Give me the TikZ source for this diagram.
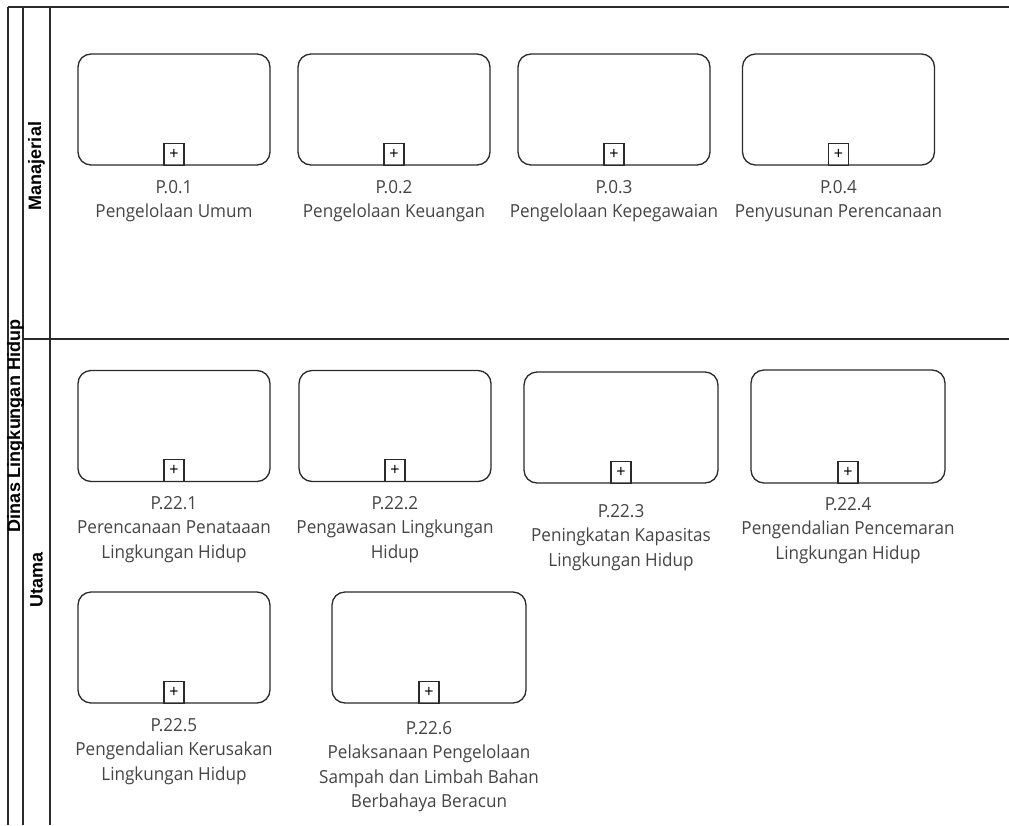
\documentclass[tikz,border=0pt]{standalone}
\usepackage{fontspec}
\setmainfont{Open Sans}[FakeStretch=0.95]
\newfontfamily\lanefont{Liberation Sans}
\definecolor{txt}{HTML}{454545}
\definecolor{edge}{HTML}{2a2a2a}
\begin{document}
\begin{tikzpicture}[x=1pt,y=-1pt,
  task/.style={draw=edge,line width=1.3pt,rounded corners=13pt,minimum width=192pt,minimum height=111pt,inner sep=0pt},
  plusbox/.style={draw=edge,line width=1.1pt,minimum width=20pt,minimum height=22pt,inner sep=0pt,font=\fontsize{17}{17}\selectfont,anchor=south},
  lbl/.style={anchor=north,align=center,inner sep=0pt,text=txt,font=\fontsize{18}{24.5}\selectfont},
  lane/.style={rotate=90,font=\lanefont\bfseries\fontsize{18}{18}\selectfont,inner sep=0pt},
  rule/.style={draw=edge,line width=1.3pt}]
\useasboundingbox (0,0) rectangle (1009,825);
\fill[white] (0,0) rectangle (1009,825);
% pool and lanes
\draw[rule] (8,7) -- (1009,7);
\draw[rule] (8,7) -- (8,825);
\draw[rule] (23,7) -- (23,825);
\draw[rule] (50,7) -- (50,825);
\draw[rule] (23,339) -- (1009,339);
\node[lane] (pool) at (15.5,426) {Dinas Lingkungan Hidup};
\node[lane] (lane1) at (36.5,166) {Manajerial};
\node[lane] (lane2) at (36.5,580) {Utama};
% Manajerial
\node[task] (p01) at (174,109.5) {};
\node[plusbox] (p01p) at (p01.south) {+};
\node[lbl] (p01l) at (174,180) {P.0.1\\Pengelolaan Umum};
\node[task] (p02) at (394,109.5) {};
\node[plusbox] (p02p) at (p02.south) {+};
\node[lbl] (p02l) at (394,180) {P.0.2\\Pengelolaan Keuangan};
\node[task] (p03) at (614,109.5) {};
\node[plusbox] (p03p) at (p03.south) {+};
\node[lbl] (p03l) at (614,180) {P.0.3\\Pengelolaan Kepegawaian};
\node[task] (p04) at (838.5,109.5) {};
\node[plusbox] (p04p) at (p04.south) {+};
\node[lbl] (p04l) at (838.5,180) {P.0.4\\Penyusunan Perencanaan};
% Utama
\node[task] (p221) at (174,426) {};
\node[plusbox] (p221p) at (p221.south) {+};
\node[lbl] (p221l) at (174,496) {P.22.1\\Perencanaan Penataaan\\Lingkungan Hidup};
\node[task] (p222) at (395,426) {};
\node[plusbox] (p222p) at (p222.south) {+};
\node[lbl] (p222l) at (395,496) {P.22.2\\Pengawasan Lingkungan\\Hidup};
\node[task,minimum width=194pt] (p223) at (621,427.5) {};
\node[plusbox] (p223p) at (p223.south) {+};
\node[lbl] (p223l) at (621,504) {P.22.3\\Peningkatan Kapasitas\\Lingkungan Hidup};
\node[task,minimum width=194pt,minimum height=113pt] (p224) at (848,426.5) {};
\node[plusbox] (p224p) at (p224.south) {+};
\node[lbl] (p224l) at (848,497) {P.22.4\\Pengendalian Pencemaran\\Lingkungan Hidup};
\node[task] (p225) at (174,647.5) {};
\node[plusbox] (p225p) at (p225.south) {+};
\node[lbl] (p225l) at (174,718) {P.22.5\\Pengendalian Kerusakan\\Lingkungan Hidup};
\node[task,minimum width=194pt] (p226) at (429,647.5) {};
\node[plusbox] (p226p) at (p226.south) {+};
\node[lbl] (p226l) at (429,721) {P.22.6\\Pelaksanaan Pengelolaan\\Sampah dan Limbah Bahan\\Berbahaya Beracun};
\end{tikzpicture}
\end{document}
